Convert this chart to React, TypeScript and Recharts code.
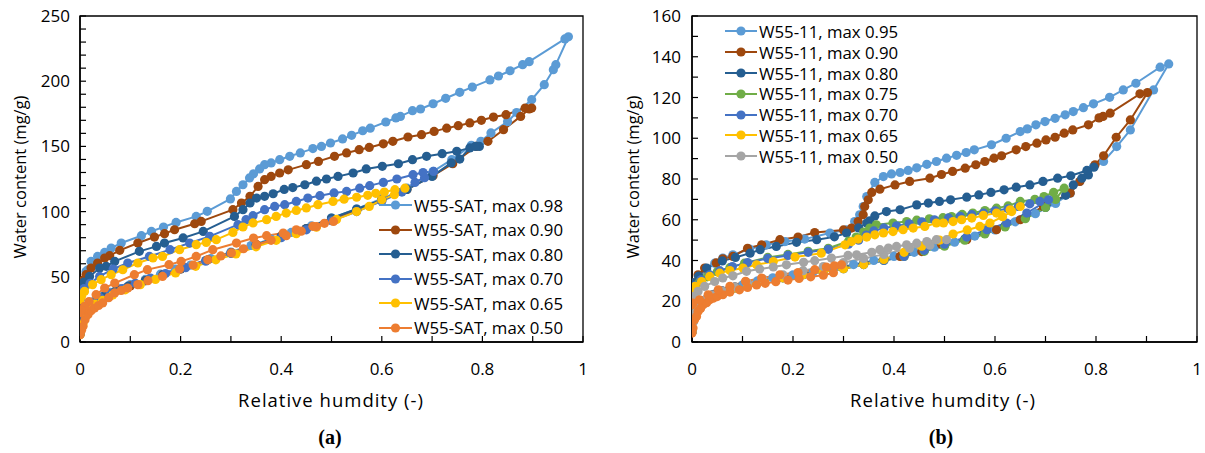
import React from 'react';
import { LineChart, Line, XAxis, YAxis, ReferenceArea } from 'recharts';

type Pt = [number, number];

// ---- (a) W55-SAT loops: adsorption up to max RH, then desorption back to 0 ----
const satMax098: Pt[] = [
  [0, 6], [0.002, 12], [0.005, 18], [0.01, 24], [0.018, 28], [0.03, 32], [0.045, 35], [0.06, 38], [0.08, 41],
  [0.1, 44], [0.13, 48], [0.16, 52], [0.19, 56], [0.22, 59], [0.26, 64], [0.3, 69], [0.34, 74], [0.38, 79],
  [0.42, 84], [0.46, 89], [0.5, 95], [0.55, 102], [0.6, 110], [0.65, 118], [0.702, 130.8], [0.739, 139.8],
  [0.778, 150.8], [0.797, 153.9], [0.817, 160.3], [0.85, 169], [0.868, 176], [0.898, 185.8], [0.923, 197.3],
  [0.941, 208.8], [0.946, 212.7], [0.971, 234],
  [0.964, 232.4], [0.893, 215], [0.88, 212.7], [0.855, 208], [0.832, 204], [0.815, 201], [0.78, 195.5],
  [0.755, 191.5], [0.727, 186.9], [0.702, 182.7], [0.677, 178.7], [0.661, 177.4], [0.637, 173], [0.628, 171.8],
  [0.608, 168.7], [0.577, 164], [0.562, 162], [0.54, 158.5], [0.522, 155.7], [0.498, 152.6], [0.48, 150],
  [0.463, 148.3], [0.438, 145], [0.417, 142.4], [0.397, 139.8], [0.38, 137.3], [0.367, 136], [0.357, 132.7],
  [0.345, 129], [0.337, 125.8], [0.324, 120.6], [0.311, 115.5], [0.299, 109.7], [0.253, 100.2], [0.231, 96.3],
  [0.191, 91.7], [0.166, 88.2], [0.142, 84.8], [0.122, 81.5], [0.082, 75.9], [0.062, 72], [0.049, 68.7],
  [0.035, 65.6], [0.022, 61.8], [0.016, 55.4], [0.012, 54.1], [0.005, 46], [0.002, 40], [0, 33],
];

const satMax090: Pt[] = [
  [0, 6], [0.003, 14], [0.008, 21], [0.015, 26], [0.025, 30], [0.04, 34], [0.06, 37], [0.08, 40], [0.1, 43],
  [0.13, 47], [0.165, 51.6], [0.2, 56], [0.254, 63], [0.301, 68.3], [0.351, 74.6], [0.4, 81], [0.45, 87],
  [0.5, 94], [0.55, 101], [0.6, 109], [0.65, 117], [0.702, 127.5], [0.741, 136.7], [0.788, 150], [0.811, 153.9],
  [0.842, 162.8], [0.876, 173], [0.893, 178.7], [0.898, 179.4],
  [0.885, 179.4], [0.847, 174.3], [0.822, 172.5], [0.798, 170], [0.775, 168], [0.752, 165.9], [0.729, 164],
  [0.704, 161.5], [0.679, 159], [0.652, 157.2], [0.622, 153.9], [0.603, 152], [0.575, 149.2], [0.555, 147.5],
  [0.53, 145], [0.506, 142.4], [0.474, 138.5], [0.45, 136], [0.414, 132], [0.397, 129.6], [0.38, 127],
  [0.367, 124.5], [0.354, 119.3], [0.338, 111.7], [0.321, 106.6], [0.304, 101.5], [0.241, 92.5], [0.228, 90.7],
  [0.188, 86.1], [0.168, 83.1], [0.148, 80.5], [0.115, 75.9], [0.079, 70.3], [0.059, 66.2], [0.049, 64.4],
  [0.035, 60.6], [0.022, 56.7], [0.012, 51.6], [0.005, 47], [0.002, 42], [0, 36],
];

const satMax080: Pt[] = [
  [0, 6], [0.002, 13], [0.006, 20], [0.012, 25], [0.02, 29], [0.035, 33], [0.05, 36], [0.07, 39], [0.095, 42.6],
  [0.13, 47], [0.165, 51.6], [0.2, 56], [0.25, 62.5], [0.3, 68.3], [0.35, 74.6], [0.4, 81], [0.45, 87],
  [0.5, 95], [0.55, 102], [0.6, 109], [0.65, 117], [0.7, 127], [0.738, 137.3], [0.755, 140.3], [0.775, 148.8],
  [0.794, 150],
  [0.786, 150], [0.749, 146.2], [0.72, 144.4], [0.689, 142.4], [0.661, 139.8], [0.633, 136.7], [0.601, 134.7],
  [0.569, 132.7], [0.543, 129.6], [0.513, 127], [0.49, 125], [0.47, 123.3], [0.447, 120.6], [0.423, 118.4],
  [0.406, 117], [0.384, 113.7], [0.367, 111.7], [0.351, 110.4], [0.338, 106.6], [0.324, 101.5], [0.307, 96.3],
  [0.245, 84.8], [0.205, 79.8], [0.168, 75.9], [0.152, 73.3], [0.118, 69.5], [0.069, 61.8], [0.052, 58],
  [0.039, 56.7], [0.019, 50.3], [0.008, 46], [0.002, 42.6], [0, 33],
];

const satMax070: Pt[] = [
  [0, 6], [0.003, 14], [0.008, 21], [0.015, 26], [0.025, 30], [0.04, 34], [0.06, 37], [0.085, 41], [0.11, 45],
  [0.14, 49], [0.17, 52.5], [0.21, 57], [0.25, 62], [0.3, 68], [0.35, 74], [0.4, 80], [0.45, 86], [0.5, 93],
  [0.55, 100], [0.6, 108], [0.64, 115], [0.666, 122.4], [0.685, 126], [0.703, 130.8],
  [0.682, 130], [0.662, 128.3], [0.63, 125], [0.603, 122.4], [0.576, 119.9], [0.556, 118], [0.53, 115.5],
  [0.505, 114.3], [0.477, 112.2], [0.453, 110.4], [0.43, 107.8], [0.407, 105.3], [0.387, 104], [0.367, 101.5],
  [0.344, 96.9], [0.33, 93.8], [0.314, 90], [0.258, 81], [0.218, 75.9], [0.179, 70.8], [0.138, 65.6],
  [0.095, 60.6], [0.066, 56], [0.039, 50.3], [0.02, 45], [0.008, 41], [0.002, 38.8], [0, 32],
];

const satMax065: Pt[] = [
  [0, 5.6], [0.002, 10], [0.006, 13.8], [0.012, 20], [0.02, 25], [0.03, 29], [0.045, 32], [0.065, 36],
  [0.09, 40], [0.12, 44], [0.15, 48], [0.19, 53], [0.23, 58], [0.27, 63], [0.31, 67.5], [0.35, 73], [0.39, 78],
  [0.43, 83], [0.47, 88], [0.51, 94], [0.55, 100], [0.575, 104], [0.6, 109], [0.625, 113], [0.646, 118],
  [0.626, 116.8], [0.605, 115], [0.588, 114], [0.572, 112.5], [0.55, 111], [0.525, 109.5], [0.503, 107.8],
  [0.473, 105.3], [0.45, 102.8], [0.43, 100.9], [0.41, 98.9], [0.39, 96.3], [0.371, 93.8], [0.344, 91.3],
  [0.324, 88.2], [0.304, 84], [0.271, 78.5], [0.251, 76.4], [0.231, 74.6], [0.198, 70.8], [0.164, 65.6],
  [0.145, 64.4], [0.115, 60.6], [0.085, 55.4], [0.062, 51.6], [0.042, 47.8], [0.025, 44], [0.009, 38.8],
  [0.003, 35], [0, 32.4],
];

const satMax050: Pt[] = [
  [0, 5.6], [0.003, 9], [0.006, 12], [0.01, 17], [0.016, 21], [0.022, 24], [0.029, 26], [0.037, 28],
  [0.045, 30], [0.057, 34], [0.069, 37.6], [0.082, 39.5], [0.095, 41.4], [0.115, 44], [0.135, 47],
  [0.164, 50.3], [0.198, 56], [0.225, 59], [0.254, 63], [0.28, 66], [0.301, 68.3], [0.325, 71.5],
  [0.351, 74.6], [0.38, 78], [0.41, 81.5], [0.44, 85], [0.47, 88.5], [0.504, 92.5],
  [0.486, 91], [0.463, 88.7], [0.43, 86], [0.404, 83.6], [0.371, 81.5], [0.345, 79.7], [0.311, 75.9],
  [0.264, 70.8], [0.231, 65.6], [0.201, 61.8], [0.177, 59.3], [0.134, 55.5], [0.108, 51.6], [0.069, 45.2],
  [0.049, 41.4], [0.032, 36.3], [0.018, 31], [0.009, 27.3], [0.003, 24], [0, 22.5],
];

// ---- (b) W55-11 loops ----
const w11Max095: Pt[] = [
  [0, 5], [0.002, 10], [0.006, 14], [0.012, 17], [0.02, 19.5], [0.03, 21.5], [0.045, 23.5], [0.06, 25],
  [0.08, 26.5], [0.1, 28], [0.13, 30], [0.16, 31.5], [0.2, 33], [0.24, 34.5], [0.28, 36], [0.32, 38],
  [0.36, 40], [0.4, 42], [0.44, 44], [0.48, 46.5], [0.52, 49], [0.56, 52], [0.6, 55], [0.64, 59], [0.68, 63],
  [0.72, 68], [0.749, 73], [0.768, 78.8], [0.795, 86], [0.815, 88.6], [0.841, 95.9], [0.868, 104.1],
  [0.914, 123.7], [0.944, 136.5],
  [0.927, 134.9], [0.879, 127], [0.854, 123.7], [0.827, 120.1], [0.795, 116.9], [0.775, 115], [0.755, 113.1],
  [0.739, 111.5], [0.719, 109.8], [0.699, 108.2], [0.681, 106.6], [0.664, 104.6], [0.65, 103.3], [0.622, 100],
  [0.593, 96.8], [0.559, 94.3], [0.543, 93], [0.524, 91.6], [0.504, 90.2], [0.484, 88.6], [0.465, 87.2],
  [0.445, 85.5], [0.428, 84.2], [0.412, 83.2], [0.395, 82.5], [0.379, 81.2], [0.362, 78.3], [0.346, 71.4],
  [0.339, 66.5], [0.332, 62.4], [0.322, 59.1], [0.306, 55.1], [0.273, 53.5], [0.223, 50.5], [0.184, 49.3],
  [0.147, 47.7], [0.114, 45.6], [0.081, 42.8], [0.061, 41.2], [0.045, 38.7], [0.029, 35.5], [0.015, 32.2],
  [0.005, 28.9], [0, 25.6],
];

const w11Max090: Pt[] = [
  [0, 5], [0.003, 11], [0.008, 15], [0.015, 18], [0.025, 20.5], [0.04, 23], [0.06, 25], [0.085, 27],
  [0.11, 28.5], [0.14, 30.5], [0.18, 32], [0.22, 33.5], [0.26, 35], [0.3, 36.5], [0.34, 38.5], [0.38, 40.5],
  [0.412, 42], [0.455, 44.4], [0.494, 48], [0.544, 50.2], [0.603, 55.1], [0.65, 60], [0.696, 66.5],
  [0.749, 73.1], [0.768, 78.8], [0.798, 87], [0.815, 91.4], [0.84, 100.5], [0.868, 109], [0.902, 122.4],
  [0.887, 121.8], [0.828, 112.3], [0.814, 110.7], [0.806, 110], [0.785, 106.6], [0.754, 104.1], [0.737, 102.5],
  [0.719, 100.5], [0.701, 99.2], [0.683, 97.6], [0.661, 95.9], [0.642, 94.3], [0.613, 91.4], [0.598, 90.2],
  [0.58, 88.6], [0.562, 87], [0.541, 85.3], [0.516, 83.7], [0.494, 82.2], [0.471, 80.4], [0.431, 78.8],
  [0.402, 77.1], [0.372, 75], [0.356, 73.4], [0.349, 69.8], [0.342, 66.5], [0.339, 62.5], [0.329, 59.1],
  [0.316, 55.9], [0.3, 55], [0.243, 53.7], [0.21, 51.5], [0.174, 50.2], [0.138, 47.7], [0.11, 46],
  [0.081, 42], [0.061, 40.8], [0.048, 38.8], [0.025, 36.3], [0.012, 33], [0.004, 29], [0, 26],
];

const w11Max080: Pt[] = [
  [0, 5], [0.003, 11], [0.008, 15], [0.015, 18], [0.025, 20.5], [0.04, 23], [0.06, 25], [0.085, 27],
  [0.11, 28.5], [0.14, 30.5], [0.18, 32], [0.22, 33.5], [0.26, 35], [0.3, 36.5], [0.34, 38.5], [0.38, 40.5],
  [0.42, 42.5], [0.46, 45], [0.5, 47.5], [0.54, 50.5], [0.58, 53.5], [0.62, 57], [0.66, 61], [0.7, 66],
  [0.74, 72], [0.755, 77.1], [0.772, 80.4], [0.785, 82], [0.796, 85.8],
  [0.782, 84.2], [0.75, 81.6], [0.724, 80.4], [0.695, 78.8], [0.669, 77.1], [0.642, 76], [0.618, 74.7],
  [0.592, 73.4], [0.568, 72.2], [0.544, 71.1], [0.512, 69.8], [0.49, 69], [0.468, 68.2], [0.445, 67.3],
  [0.412, 64.9], [0.385, 64], [0.362, 61.9], [0.352, 59.5], [0.346, 58.4], [0.33, 56], [0.306, 53.5],
  [0.282, 51.6], [0.247, 50.2], [0.207, 48.9], [0.167, 46.9], [0.135, 45.3], [0.115, 43.6], [0.086, 41.5],
  [0.06, 39.8], [0.029, 36.3], [0.013, 32.3], [0.003, 29], [0, 25],
];

const w11Max075: Pt[] = [
  [0, 5], [0.003, 10.5], [0.008, 14.5], [0.015, 17.5], [0.025, 20], [0.04, 22.5], [0.06, 24.5], [0.085, 26.5],
  [0.11, 28], [0.14, 30], [0.18, 31.5], [0.22, 33], [0.26, 34.5], [0.3, 36], [0.34, 38], [0.38, 40],
  [0.42, 42], [0.46, 44.5], [0.5, 47], [0.54, 50], [0.58, 53], [0.62, 56.5], [0.66, 60.5], [0.7, 66],
  [0.72, 70], [0.737, 75.5],
  [0.716, 73.4], [0.697, 71.4], [0.679, 70], [0.65, 69], [0.626, 66.8], [0.603, 65.7], [0.58, 64.5],
  [0.556, 63.3], [0.535, 62.6], [0.514, 61.6], [0.497, 61], [0.47, 60.5], [0.445, 59.8], [0.425, 59.1],
  [0.398, 58.4], [0.365, 57.5], [0.352, 55.9], [0.34, 54], [0.325, 51.5], [0.31, 49.5], [0.27, 46],
  [0.23, 44.5], [0.19, 43], [0.15, 41.5], [0.104, 38.7], [0.075, 36.5], [0.05, 34.5], [0.03, 32],
  [0.015, 29.5], [0.004, 26.5], [0, 23],
];

const w11Max070: Pt[] = [
  [0, 5], [0.003, 10.5], [0.008, 14.5], [0.015, 17.5], [0.025, 20], [0.04, 22.5], [0.06, 24.5], [0.085, 26.5],
  [0.11, 28], [0.14, 30], [0.18, 31.5], [0.22, 33], [0.26, 34.5], [0.3, 36], [0.34, 38], [0.38, 40],
  [0.42, 42], [0.46, 45], [0.5, 48], [0.544, 51.5], [0.584, 55.1], [0.623, 58.4], [0.663, 63.3], [0.706, 69.8],
  [0.689, 69], [0.669, 67.8], [0.646, 66.5], [0.626, 65.4], [0.6, 64.4], [0.577, 63.3], [0.554, 62.5],
  [0.531, 61.7], [0.508, 60.9], [0.48, 60], [0.455, 59], [0.43, 58], [0.405, 57], [0.38, 56], [0.36, 54.5],
  [0.345, 52.5], [0.33, 50], [0.31, 48], [0.27, 45.5], [0.23, 44], [0.19, 42.5], [0.15, 41], [0.11, 39],
  [0.08, 37], [0.055, 35], [0.035, 33], [0.018, 30.5], [0.006, 27.5], [0, 24],
];

const w11Max065: Pt[] = [
  [0, 5], [0.003, 10.5], [0.008, 14.5], [0.015, 17.5], [0.025, 20], [0.04, 22.5], [0.06, 24.5], [0.085, 26.5],
  [0.11, 28], [0.14, 30], [0.18, 31.5], [0.22, 33], [0.26, 34.5], [0.3, 36], [0.34, 38], [0.38, 40.5],
  [0.42, 44], [0.455, 47], [0.49, 50], [0.517, 53], [0.545, 55], [0.57, 56.7], [0.59, 58.4], [0.615, 61.5],
  [0.633, 64], [0.65, 66.5],
  [0.63, 64.9], [0.603, 63.3], [0.577, 62.1], [0.554, 60.8], [0.534, 60], [0.517, 59.1], [0.498, 58.4],
  [0.484, 58.4], [0.461, 56.7], [0.438, 55.9], [0.418, 55.1], [0.398, 54.2], [0.379, 53.5], [0.362, 52.6],
  [0.346, 51.5], [0.329, 50.5], [0.316, 49.3], [0.303, 47.7], [0.256, 43.6], [0.204, 41.7], [0.161, 39.5],
  [0.128, 37.9], [0.101, 36.3], [0.075, 35.1], [0.055, 33.8], [0.035, 32.2], [0.019, 29.7], [0.006, 27.3],
  [0, 24.8],
];

const w11Max050: Pt[] = [
  [0, 5], [0.003, 10], [0.008, 14.5], [0.015, 18], [0.025, 20.5], [0.04, 23], [0.06, 25], [0.085, 27],
  [0.11, 29], [0.14, 31], [0.18, 33], [0.22, 35], [0.26, 37], [0.3, 39], [0.34, 41], [0.38, 43], [0.431, 46],
  [0.471, 47.5], [0.504, 50.2],
  [0.484, 50.2], [0.465, 49.3], [0.445, 48.5], [0.425, 47.7], [0.405, 46.9], [0.389, 46.1], [0.372, 45.3],
  [0.356, 44], [0.326, 42.8], [0.309, 42.5], [0.276, 41.2], [0.243, 39.9], [0.221, 39.1], [0.187, 37.9],
  [0.161, 36.8], [0.134, 35.8], [0.108, 34.7], [0.081, 32.5], [0.061, 31.4], [0.045, 29.7], [0.025, 27.3],
  [0.012, 24.8], [0.002, 22.3], [0, 20],
];

// extra orange loop in (b), not listed in the legend
const w11Extra: Pt[] = [
  [0, 4.4], [0.002, 6.9], [0.005, 10.9], [0.009, 12.5], [0.012, 15], [0.017, 16.5], [0.022, 18.3],
  [0.029, 19.3], [0.035, 20.7], [0.042, 21.5], [0.05, 22.3], [0.061, 23.2], [0.075, 24.5], [0.094, 25.6],
  [0.11, 26.8], [0.128, 28], [0.145, 28.8], [0.166, 29.6], [0.19, 30.4], [0.212, 31.2], [0.235, 32],
  [0.26, 32.8], [0.28, 34], [0.296, 37.9],
  [0.282, 37.4], [0.266, 36.8], [0.243, 35.5], [0.21, 34.1], [0.174, 33], [0.138, 31.4], [0.106, 29.8],
  [0.075, 27.3], [0.052, 25.6], [0.032, 23.2], [0.015, 20.7], [0.002, 19.1], [0, 18.3],
];

const xTicks = [0, 0.1, 0.2, 0.3, 0.4, 0.5, 0.6, 0.7, 0.8, 0.9, 1];
const xLabels: Record<number, string> = { 0: '0', 0.2: '0.2', 0.4: '0.4', 0.6: '0.6', 0.8: '0.8', 1: '1' };
const yTicksA = [0, 10, 20, 30, 40, 50, 60, 70, 80, 90, 100, 110, 120, 130, 140, 150, 160, 170, 180, 190, 200, 210, 220, 230, 240, 250];
const yTicksB = [0, 10, 20, 30, 40, 50, 60, 70, 80, 90, 100, 110, 120, 130, 140, 150, 160];

const seriesA = [
  { name: 'W55-SAT, max 0.98', color: '#5B9BD5', pts: satMax098 },
  { name: 'W55-SAT, max 0.90', color: '#9E480E', pts: satMax090 },
  { name: 'W55-SAT, max 0.80', color: '#255E91', pts: satMax080 },
  { name: 'W55-SAT, max 0.70', color: '#4472C4', pts: satMax070 },
  { name: 'W55-SAT, max 0.65', color: '#FFC000', pts: satMax065 },
  { name: 'W55-SAT, max 0.50', color: '#ED7D31', pts: satMax050 },
];

const seriesB = [
  { name: 'W55-11, max 0.95', color: '#5B9BD5', pts: w11Max095 },
  { name: 'W55-11, max 0.90', color: '#9E480E', pts: w11Max090 },
  { name: 'W55-11, max 0.80', color: '#255E91', pts: w11Max080 },
  { name: 'W55-11, max 0.75', color: '#70AD47', pts: w11Max075 },
  { name: 'W55-11, max 0.70', color: '#4472C4', pts: w11Max070 },
  { name: 'W55-11, max 0.65', color: '#FFC000', pts: w11Max065 },
  { name: 'W55-11, max 0.50', color: '#A5A5A5', pts: w11Max050 },
  { name: '', color: '#ED7D31', pts: w11Extra },
];

const FONT = '"Open Sans", sans-serif';
const tickStyle = { fill: '#000', fontSize: 17, fontFamily: FONT };

const toRows = (pts: Pt[]) => pts.map(([x, y]) => ({ x, y }));

function Panel({ series, yMax, yTicks, yStep, left, width, right, yWidth, yMargin }: any) {
  return (
    <div style={{ position: 'absolute', left, top: 0 }}>
      <LineChart width={width} height={453} margin={{ top: 16, right, bottom: 81, left: 0 }}>
        <XAxis
          type="number"
          dataKey="x"
          domain={[0, 1]}
          ticks={xTicks}
          interval={0}
          height={30}
          tickSize={-6}
          tickMargin={27}
          tickFormatter={(v: number) => xLabels[v] ?? ''}
          tick={tickStyle}
          axisLine={{ stroke: '#000', strokeWidth: 1.5 }}
          tickLine={{ stroke: '#000', strokeWidth: 1.2 }}
          allowDataOverflow
        />
        <YAxis
          type="number"
          dataKey="y"
          domain={[0, yMax]}
          ticks={yTicks}
          interval={0}
          width={yWidth}
          tickSize={-6}
          tickMargin={yMargin}
          tickFormatter={(v: number) => (v % yStep === 0 ? String(v) : '')}
          tick={tickStyle}
          axisLine={{ stroke: '#000', strokeWidth: 1.5 }}
          tickLine={{ stroke: '#000', strokeWidth: 1.2 }}
          allowDataOverflow
        />
        <ReferenceArea x1={0} x2={1} y1={0} y2={yMax} fill="none" fillOpacity={0} stroke="#000" strokeWidth={1.3} />
        {series.map((s: any, i: number) => (
          <Line
            key={i}
            data={toRows(s.pts)}
            dataKey="y"
            type="linear"
            stroke={s.color}
            strokeWidth={2}
            dot={{ r: 4.6, fill: s.color, stroke: s.color, strokeWidth: 0 }}
            isAnimationActive={false}
          />
        ))}
      </LineChart>
    </div>
  );
}

function LegendBox({ series, left, top, step, lineLen }: any) {
  return (
    <div style={{ position: 'absolute', left, top, fontFamily: FONT, fontSize: 16.8, color: '#000' }}>
      {series.filter((s: any) => s.name).map((s: any) => (
        <div key={s.name} style={{ display: 'flex', alignItems: 'center', height: step, whiteSpace: 'nowrap' }}>
          <svg width={lineLen} height={12} style={{ marginRight: 2 }}>
            <line x1={0} y1={6} x2={lineLen} y2={6} stroke={s.color} strokeWidth={2} />
            <circle cx={lineLen / 2} cy={6} r={4.6} fill={s.color} />
          </svg>
          <span>{s.name}</span>
        </div>
      ))}
    </div>
  );
}

const titleStyle: React.CSSProperties = { position: 'absolute', fontFamily: FONT, fontSize: 16.5, color: '#000', whiteSpace: 'nowrap' };
const xTitleStyle: React.CSSProperties = { ...titleStyle, fontSize: 18.5, letterSpacing: 1 };
const panelLabelStyle: React.CSSProperties = { ...titleStyle, fontFamily: '"Liberation Serif", serif', fontWeight: 'bold', fontSize: 20 };

export default function App() {
  return (
    <div style={{ position: 'absolute', left: 0, top: 0, width: 1205, height: 453, background: '#fff', overflow: 'hidden' }}>
      <Panel series={seriesA} yMax={250} yTicks={yTicksA} yStep={50} left={0} width={600} right={17} yWidth={80} yMargin={16} />
      <Panel series={seriesB} yMax={160} yTicks={yTicksB} yStep={20} left={610} width={595} right={8} yWidth={82} yMargin={17} />

      <LegendBox series={seriesA} left={379} top={193} step={24.5} lineLen={33} />
      <LegendBox series={seriesB} left={725} top={21} step={20.8} lineLen={32} />

      <div style={{ ...titleStyle, left: 19, top: 177, transform: 'translate(-50%, -50%) rotate(-90deg)' }}>Water content (mg/g)</div>
      <div style={{ ...titleStyle, left: 632, top: 177, transform: 'translate(-50%, -50%) rotate(-90deg)' }}>Water content (mg/g)</div>
      <div style={{ ...xTitleStyle, left: 331, top: 399, transform: 'translate(-50%, -50%)' }}>Relative humdity (-)</div>
      <div style={{ ...xTitleStyle, left: 943, top: 399, transform: 'translate(-50%, -50%)' }}>Relative humdity (-)</div>

      <div style={{ ...panelLabelStyle, left: 330, top: 437, transform: 'translate(-50%, -50%)' }}>(a)</div>
      <div style={{ ...panelLabelStyle, left: 941, top: 437, transform: 'translate(-50%, -50%)' }}>(b)</div>
    </div>
  );
}
